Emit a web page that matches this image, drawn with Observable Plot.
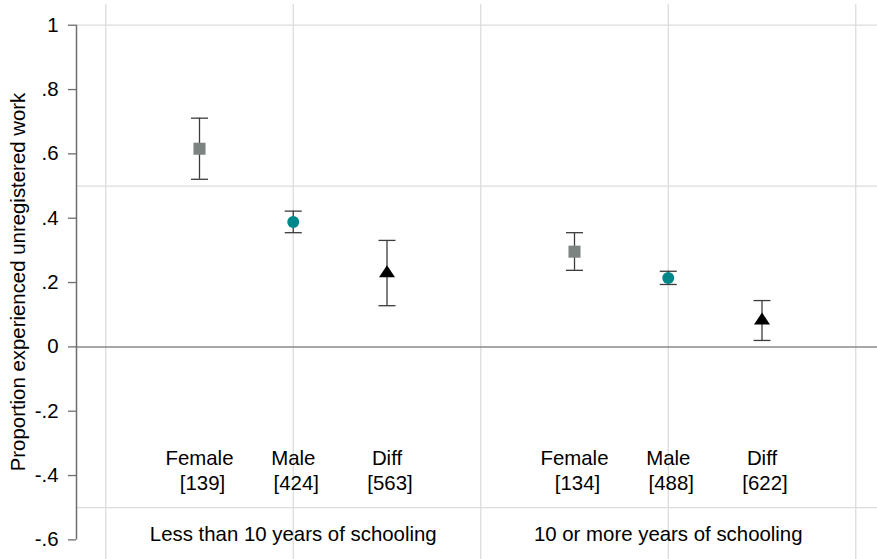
<!DOCTYPE html>
<html>
<head>
<meta charset="utf-8">
<script src="https://cdn.jsdelivr.net/npm/d3@7"></script>
<script src="https://cdn.jsdelivr.net/npm/@observablehq/plot@0.6"></script>
<style>
  html, body { margin: 0; padding: 0; background: #fff; }
</style>
</head>
<body>
<div id="chart"></div>
<script>
// Schooling groups and the three estimates shown within each group
const groups = ["Less than 10 years of schooling", "10 or more years of schooling"];
const series = ["Female", "Male", "Diff"];
const counts = [[139, 424, 563], [134, 488, 622]];
const estimates = [[0.616, 0.388, 0.229], [0.296, 0.214, 0.082]];
const lower = [[0.521, 0.355, 0.128], [0.238, 0.194, 0.020]];
const upper = [[0.711, 0.422, 0.331], [0.355, 0.235, 0.144]];
const yTicks = [-0.6, -0.4, -0.2, 0, 0.2, 0.4, 0.6, 0.8, 1];
const yGrid = [1, 0.5, -0.5];
const yTitle = "Proportion experienced unregistered work";

// Position on the x axis: two units per group, half a unit between estimates
const slot = (g, i) => 1 + 2 * g + 0.5 * i;
const xDomain = [0.344, 4.616];
const xGrid = d3.range(groups.length * 2 + 1).map((k) => 0.5 + k);

const rows = groups.flatMap((group, g) =>
  series.map((name, i) => ({
    group, name, x: slot(g, i),
    est: estimates[g][i], lo: lower[g][i], hi: upper[g][i], n: counts[g][i]
  }))
);
const groupRows = groups.map((name, g) => ({name, x: slot(g, 1)}));

// Custom symbols: flat caps for the confidence intervals and a wide triangle
const cap = {draw(ctx, size) { const r = Math.sqrt(size / Math.PI); ctx.moveTo(-r, 0); ctx.lineTo(r, 0); }};
const tri = {draw(ctx, size) {
  const r = Math.sqrt(size / Math.PI);
  ctx.moveTo(0, -r); ctx.lineTo(r, r / 2); ctx.lineTo(-r, r / 2); ctx.closePath();
}};

const fmt = (d) => String(d).replace(/^(-?)0\./, "$1.");
const barColor = "#3c3c3c";
const fs = 20.4;

const chart = Plot.plot({
  width: 877,
  height: 559,
  marginLeft: 76,
  marginRight: 0,
  marginTop: 4,
  marginBottom: 0,
  x: {domain: xDomain, axis: null},
  y: {domain: [-0.661, 1.0644]},
  style: {fontFamily: "'Liberation Sans', Arial, sans-serif", fontSize: `${fs}px`, background: "#fff", color: "#000"},
  marks: [
    Plot.ruleX(xGrid, {stroke: "#dcdcdc", strokeWidth: 1.3}),
    Plot.ruleY(yGrid, {x1: xDomain[0], x2: xDomain[1], stroke: "#dcdcdc", strokeWidth: 1.3}),
    Plot.ruleY([0], {x1: xDomain[0], x2: xDomain[1], stroke: "#8a8a8a", strokeWidth: 1.5}),
    Plot.ruleX([xDomain[0]], {y1: d3.min(yTicks), y2: d3.max(yTicks), stroke: "#6e6e6e", strokeWidth: 1.5}),
    Plot.axisY(yTicks, {tickSize: 8, tickPadding: 10, tickFormat: fmt, label: null, stroke: "#6e6e6e", strokeWidth: 1.3, fontSize: fs}),
    Plot.text([yTitle], {frameAnchor: "left", rotate: -90, dx: -58, text: (d) => d, textAnchor: "middle", lineAnchor: "middle", fontSize: fs}),
    // confidence intervals
    Plot.ruleX(rows, {x: "x", y1: "lo", y2: "hi", stroke: barColor, strokeWidth: 1.3}),
    Plot.dot(rows, {x: "x", y: "lo", symbol: cap, r: 8.5, stroke: barColor, strokeWidth: 1.3, fill: "none"}),
    Plot.dot(rows, {x: "x", y: "hi", symbol: cap, r: 8.5, stroke: barColor, strokeWidth: 1.3, fill: "none"}),
    // point estimates
    Plot.dot(rows.filter((d) => d.name === "Female"), {x: "x", y: "est", symbol: "square", r: 6.8, fill: "#7d8381", stroke: "none"}),
    Plot.dot(rows.filter((d) => d.name === "Male"), {x: "x", y: "est", symbol: "circle", r: 6, fill: "#00878a", stroke: "none"}),
    Plot.dot(rows.filter((d) => d.name === "Diff"), {x: "x", y: "est", symbol: tri, r: 8, fill: "#000", stroke: "none"}),
    // category labels with sample sizes
    Plot.text(rows, {x: "x", text: "name", frameAnchor: "bottom", lineAnchor: "middle", dy: -101, fontSize: fs}),
    Plot.text(rows, {x: "x", text: (d) => `[${d.n}]`, frameAnchor: "bottom", lineAnchor: "middle", dy: -76, dx: 3, fontSize: fs}),
    Plot.text(groupRows, {x: "x", text: "name", frameAnchor: "bottom", lineAnchor: "middle", dy: -25, fontSize: fs})
  ]
});

document.getElementById("chart").append(chart);
</script>
</body>
</html>
